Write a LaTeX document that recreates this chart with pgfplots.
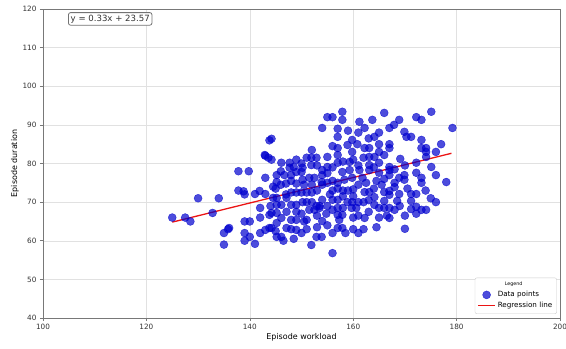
\documentclass[border=0pt]{standalone}
\usepackage{pgfplots}
\pgfplotsset{compat=1.18}
\usepackage{fontspec}
\setmainfont{DejaVu Sans}
\definecolor{ptblue}{RGB}{0,0,205}
\definecolor{spine}{RGB}{120,120,120}
\definecolor{gridc}{RGB}{225,225,225}
\definecolor{txt}{RGB}{50,50,50}
\definecolor{regred}{RGB}{235,20,20}
\begin{document}
\begin{tikzpicture}
\begin{axis}[
  scale only axis,
  width=517bp, height=309bp,
  xmin=100, xmax=200, ymin=40, ymax=120,
  xtick={100,120,...,200}, ytick={40,50,...,120},
  grid=major,
  grid style={gridc, line width=0.5pt},
  axis line style={spine, line width=0.9pt},
  tick style={spine, line width=0.6pt},
  tick align=outside,
  major tick length=3bp,
  xtick pos=bottom, ytick pos=left,
  /pgf/number format/assume math mode=true,
  ticklabel style={font=\fontsize{7.3}{8}\selectfont, text=txt},
  xlabel={Episode workload}, ylabel={Episode duration},
  label style={font=\fontsize{8}{9}\selectfont, text=black},
  xlabel style={yshift=3bp},
  ylabel style={yshift=-3bp},
  legend style={at={(0.994,0.013)}, anchor=south east, font=\fontsize{7.2}{8.5}\selectfont,
    draw=black!20, rounded corners=2pt, fill=white, row sep=0pt, inner sep=2.5pt},
  legend cell align=left,
]
\addlegendimage{empty legend}
\addlegendentry{\hspace{7bp}\fontsize{4.8}{5}\selectfont Legend}
\addplot[only marks, mark=*, mark size=4bp, mark options={fill=ptblue, draw=ptblue, opacity=0.7}] table {
x y
125 66
127.5 66
128.5 65
130 71
132.8 67.2
134 71
135 62
135.8 63
135 59
136 63.3
137.8 73
138.8 72.8
139 72
137.8 78
139.8 78
139 65
140 65
139 62
140 61
139 60
141 59.2
141.9 72.9
141 72.1
143 72.1
142 66
142 62
143 62.8
143.8 63.3
143.8 66.7
143 76.3
143 82
143.6 81.5
143.8 86
142.9 82.2
144.2 81
144.2 86.4
145.2 77
145.2 75.2
146.1 80.2
146.7 77
148 77
147.7 80.2
147.7 78.9
148.5 79.1
146 74.5
145 73.5
144.5 71.1
145.2 71.1
147.1 71.1
145.2 69.3
146.1 69.3
148 69.3
149 69.3
144.2 67.2
145.2 67.2
147.1 67.5
149 67.5
146.1 65.9
148 65.4
149 65.4
145.2 64.6
144.2 63.3
147.1 63.3
149 62.8
145.2 61
146.1 61
148 72.5
149 72.5
144.5 74
147 74.8
149 74.8
146.5 60
145 62.5
150 62
151 65.4
151.9 58.9
152.9 61
153.9 61
154 65.1
150.2 70
151 70
152 70
152.9 69
153.5 69
154 70.6
151.5 68
152.5 68
153.5 68.5
150 72.5
151 72.5
152 72.5
153 73
150.5 74.5
152 74.5
154 74.5
151.5 76.3
152.5 76.3
150.2 75.8
153.9 75.2
150.2 78.9
149 77.8
150 77.8
151 81.5
151.9 81.5
152.9 81.5
151.9 79.6
154 78.3
154 77
154 89.2
150 67
148.5 60.5
151 63
153 63.5
155 92
156 92
157.9 93.4
157.9 91.3
157 89
157 86.9
157 84
157 82.2
157 80.2
155 81.7
155 79.1
157.9 77.8
158.9 84.8
159.8 86.1
159.8 83
159.3 80.4
159.3 78.3
159.8 76.3
158.3 75.8
156 73
157 73.5
158 73
159 73
160 73.3
155.5 72
156 70.6
157 70.6
158.9 70
159.8 70
157 68.5
158 68.5
159.7 68.5
156 68
157 66.7
157.9 66.7
157.3 65.4
157 63.3
157.9 63.3
156 62
156 56.8
155 75
156 75.5
157 75
158 71.5
160 71.5
155 69
154.8 67
160 66
160 63
161.2 90.8
162.2 89.2
163.7 91.3
164.1 86.9
162.2 84
163.1 84
163.1 81.7
164.1 81.7
163.1 79.6
163.1 78.3
161.2 78.3
161.8 76.3
160.6 68.5
161 70
162 70
162.2 72.6
163.1 72.6
164 73.5
164.1 71.3
164.1 69.3
162.2 65.9
161 74.5
162.5 75
164.5 75.5
161 66.5
163 67.5
164.5 63.5
162 63
160.8 85
165 88
161 88
166 93.1
165 85
167 85
167 84
166 82.2
165 80.2
167 79.1
167 78.3
167 77
165 77.6
169.1 81.2
168.9 91.3
167.9 90
167 89.2
169.9 88.2
170.3 86.9
166 72.6
167 71.9
167 72.9
168 73.9
168.9 72.1
166 70.3
168.5 70.3
165 68.5
166 68.5
167 68.5
168 68
167 65.9
170 63.1
169.9 77
169.9 75.8
168.9 76.3
165.5 74.5
168 75
166.5 66.5
171.2 86.9
172.2 92
173.2 91.3
175.1 93.4
173.2 86.1
173.2 84
174.1 84
174.1 83
174.1 81.7
177 85
176 83
179.2 89.2
172.2 80.2
172.2 77.6
175.1 79.1
176 77
173.2 76.3
173.2 75
178 75.2
171.2 72.1
172.2 72.1
171.2 70.3
176 70
171.2 68.2
172.2 68.8
173.2 68
174.1 68
172.2 67
170.5 73.5
174 73
175 71
146 78
148 75.5
150 80
153 79.5
155 77.5
156 79
158 80.5
160 81
161 79.5
162 81.5
164 79
166 76
168 78.5
170 79.5
165 83
163 86.5
159 88.5
156 84.5
152 83.5
149 81
147 72
150.5 65
153 66.5
155 64
158.5 62
161 62
165 66
163 70.5
169 69
170 66.5
148 63
144 69
142 68.5
};
\addlegendentry{Data points}
\addplot[draw=regred, line width=1.3pt, legend image post style={draw=regred}] coordinates {(125,64.82) (179,82.64)};
\addlegendentry{Regression line}
\node[draw=black!55, rounded corners=2pt, fill=white, inner sep=2.2pt, line width=0.8pt,
  font=\fontsize{8.6}{9.5}\selectfont, text=txt] at (rel axis cs:0.13,0.968) {y = 0.33x + 23.57};
\end{axis}
\pgfresetboundingbox
\useasboundingbox ([xshift=-43bp,yshift=-31bp]current axis.south west) rectangle ([xshift=6bp,yshift=9bp]current axis.north east);
\end{tikzpicture}
\end{document}
